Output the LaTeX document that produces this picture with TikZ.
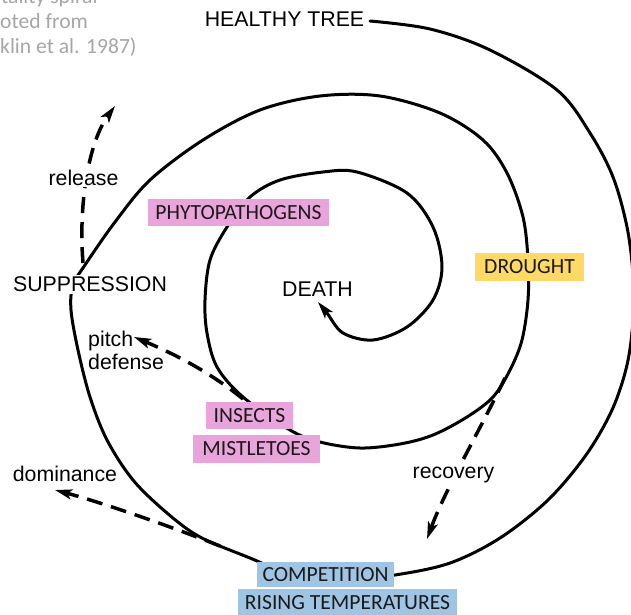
\documentclass[tikz,border=0pt]{standalone}
\usepackage{fontspec}
\setmainfont{Liberation Sans}
\newfontfamily\carl{Carlito}
\usetikzlibrary{arrows.meta}
\definecolor{pinkbox}{RGB}{234,164,220}
\definecolor{yellowbox}{RGB}{255,217,102}
\definecolor{bluebox}{RGB}{160,196,228}
\definecolor{greytext}{RGB}{166,166,166}
\definecolor{boxtext}{RGB}{26,26,26}
\begin{document}
\begin{tikzpicture}[x=1pt,y=-1pt,
  spiralline/.style={line width=3pt, line cap=round, line join=round, -{Stealth[length=17pt,width=10pt,inset=4pt]}},
  dasharrow/.style={line width=3.5pt, dash pattern=on 16pt off 9pt, -{Stealth[length=17pt,width=10pt,inset=4pt]}},
  lbl/.style={font=\fontsize{21.3}{23}\selectfont, inner sep=2pt, anchor=base},
  whitelbl/.style={lbl, fill=white},
  tag/.style={font=\carl\fontsize{21.6}{24}\selectfont, text=boxtext, inner sep=0pt, anchor=center},
  greynote/.style={font=\carl\fontsize{21.6}{24}\selectfont, text=greytext, inner sep=0pt, anchor=base west}
]
\useasboundingbox (0,0) rectangle (631,614);

% arrow end points
\coordinate (relS) at (83,263);  \coordinate (relA) at (78,200);  \coordinate (relB) at (90,140);  \coordinate (relE) at (115,106);
\coordinate (pitS) at (243,399); \coordinate (pitA) at (205,368); \coordinate (pitB) at (165,350); \coordinate (pitE) at (134,337);
\coordinate (domS) at (220,546); \coordinate (domA) at (170,526); \coordinate (domB) at (100,502); \coordinate (domE) at (55,490);
\coordinate (recS) at (505,378); \coordinate (recA) at (480,430); \coordinate (recB) at (445,490); \coordinate (recE) at (427,539);

% spiral
\draw[spiralline] plot[smooth, tension=0.55] coordinates {
 (370,21) (430,29) (490,50) (557,90) (590,133) (613,177) (627,227) (633,275)
 (633,320) (627,365) (612,410) (586,455) (548,500) (500,538) (450,563) (395,575)
 (337,581) (290,574) (250,558) (200,537) (167,513) (133,480) (107,440) (90,397)
 (78,350) (71,310) (73,285) (85,265) (115,222) (150,180) (203,140) (260,110)
 (320,96) (380,96) (440,113) (483,140) (507,173) (523,217) (528,260) (528,300)
 (522,340) (510,370) (493,397) (467,417) (433,435) (400,444) (360,448) (320,442)
 (290,430) (243,397) (217,367) (207,333) (205,300) (210,260) (227,227) (250,197)
 (280,180) (323,172) (357,172) (407,193) (433,227) (442,267) (433,300) (407,327)
 (373,340) (343,333) (327,313) (318,302)};

% dashed arrows
\draw[dasharrow] (relS) .. controls (relA) and (relB) .. (relE);
\draw[dasharrow] (pitS) .. controls (pitA) and (pitB) .. (pitE);
\draw[dasharrow] (domS) .. controls (domA) and (domB) .. (domE);
\draw[dasharrow] (recS) .. controls (recA) and (recB) .. (recE);

% labels
\node[lbl] (healthy) at (284.5,26) {HEALTHY TREE};
\node[whitelbl] (release) at (83.5,185) {release};
\node[whitelbl] (suppression) at (90,291.5) {SUPPRESSION};
\node[lbl] (death) at (317.5,296.5) {DEATH};
\node[lbl, anchor=west, align=left, inner sep=0pt] (pitch) at (88,350.5) {pitch\\defense};
\node[lbl] (dominance) at (65,481) {dominance};
\node[whitelbl] (recovery) at (453.5,478) {recovery};

% coloured tags
\node[tag, fill=pinkbox, minimum width=181pt, minimum height=27pt] (phyto) at (238.5,212.5) {PHYTOPATHOGENS};
\node[tag, fill=yellowbox, minimum width=109pt, minimum height=28pt] (drought) at (529.5,267) {DROUGHT};
\node[tag, fill=pinkbox, minimum width=87pt, minimum height=27pt] (insects) at (249.5,415.5) {INSECTS};
\node[tag, fill=pinkbox, minimum width=127pt, minimum height=28pt] (mistletoes) at (256.5,449) {MISTLETOES};
\node[tag, fill=bluebox, minimum width=137pt, minimum height=25pt] (competition) at (325.5,574.5) {COMPETITION};
\node[tag, fill=bluebox, minimum width=219pt, minimum height=27pt] (rising) at (347.5,602.5) {RISING TEMPERATURES};

% grey source note (cut by the left and top edges)
\node[greynote] (note1) at (1,3) {tality spiral};
\node[greynote] (note2) at (0,28) {oted from};
\node[greynote] (note3) at (0,53) {klin et al. 1987)};
\end{tikzpicture}
\end{document}
